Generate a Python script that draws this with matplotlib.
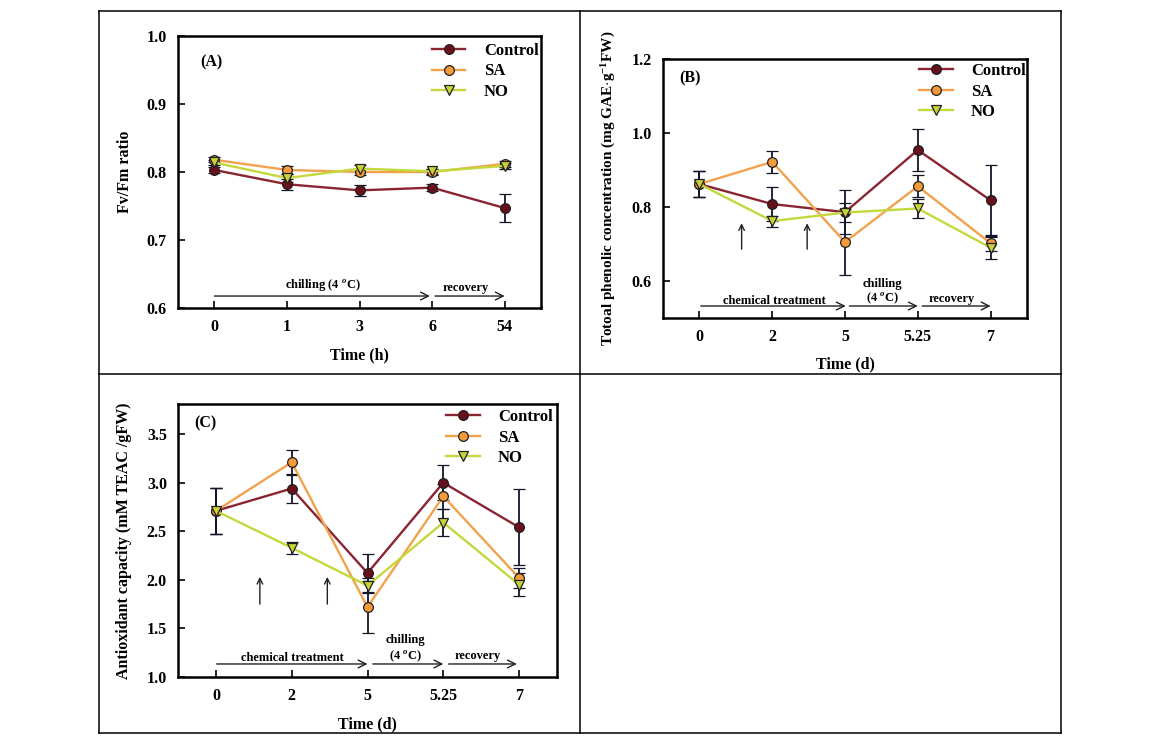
import numpy as np
import matplotlib
matplotlib.use('Agg')
import matplotlib.pyplot as plt
from matplotlib.lines import Line2D

plt.rcParams['font.family'] = ['Liberation Serif', 'DejaVu Serif']
plt.rcParams['font.weight'] = 'bold'
plt.rcParams['axes.labelweight'] = 'bold'
plt.rcParams['mathtext.fontset'] = 'custom'
plt.rcParams['mathtext.rm'] = 'Liberation Serif:bold'
plt.rcParams['mathtext.it'] = 'Liberation Serif:italic:bold'
plt.rcParams['mathtext.bf'] = 'Liberation Serif:bold'

# ---- data ----
series = ['Control', 'SA', 'NO']

# (A) Fv/Fm ratio
ticks_a = ['0', '1', '3', '6', '54']
fvfm_control = [0.803, 0.782, 0.773, 0.777, 0.747]
fvfm_control_err = [0.005, 0.008, 0.008, 0.005, 0.020]
fvfm_sa = [0.818, 0.803, 0.800, 0.800, 0.812]
fvfm_sa_err = [0.004, 0.006, 0.005, 0.004, 0.004]
fvfm_no = [0.814, 0.791, 0.805, 0.801, 0.809]
fvfm_no_err = [0.004, 0.006, 0.005, 0.004, 0.004]

# (B) total phenolic concentration
ticks_d = ['0', '2', '5', '5.25', '7']
phen_control = [0.862, 0.808, 0.786, 0.954, 0.818]
phen_control_err = [0.035, 0.045, 0.060, 0.058, 0.095]
phen_sa = [0.862, 0.922, 0.705, 0.856, 0.702]
phen_sa_err = [0.035, 0.030, 0.090, 0.030, 0.020]
phen_no = [0.862, 0.762, 0.785, 0.796, 0.690]
phen_no_err = [0.035, 0.015, 0.025, 0.025, 0.030]

# (C) antioxidant capacity
anti_control = [2.71, 2.94, 2.07, 3.00, 2.54]
anti_control_err = [0.24, 0.15, 0.20, 0.18, 0.39]
anti_sa = [2.71, 3.21, 1.72, 2.86, 2.02]
anti_sa_err = [0.24, 0.13, 0.27, 0.13, 0.10]
anti_no = [2.71, 2.33, 1.94, 2.59, 1.95]
anti_no_err = [0.24, 0.06, 0.08, 0.14, 0.12]

line_colors = {'Control': '#8a2433', 'SA': '#f2a24c', 'NO': '#c4d83c'}
face_colors = {'Control': '#6a0f1c', 'SA': '#f39a3a', 'NO': '#c9d236'}
markers = {'Control': 'o', 'SA': 'o', 'NO': 'v'}
err_color = '#15152a'

W, H = 1162, 738
fig = plt.figure(figsize=(W / 100, H / 100), dpi=100)


def px_axes(l, t, r, b):
    return fig.add_axes([l / W, (H - b) / H, (r - l) / W, (b - t) / H])


def draw_panel(ax, data, ticks, ylim, yticks, ylabel, tag, tag_xy, leg_xy, lab_x, ylab_size=11.5):
    x = np.arange(len(ticks))
    handles = []
    for name, (vals, errs) in zip(series, data):
        ax.errorbar(x, vals, yerr=errs, color=line_colors[name], lw=1.7,
                    marker=markers[name], ms=7, mfc=face_colors[name],
                    mec='#202020', mew=0.9, ecolor=err_color, elinewidth=1.3,
                    capsize=4, capthick=1.3)
        handles.append(Line2D([], [], color=line_colors[name], lw=1.7,
                              marker=markers[name], ms=7, mfc=face_colors[name],
                              mec='#202020', mew=0.9, label=name))
    ax.set_xlim(-0.5, len(ticks) - 0.5)
    ax.set_ylim(*ylim)
    ax.set_xticks(x)
    ax.set_xticklabels(ticks)
    ax.set_yticks(yticks)
    ax.set_yticklabels(['%.1f' % v for v in yticks])
    ax.tick_params(direction='in', length=5, width=1.2, labelsize=11.5, pad=8)
    for s in ax.spines.values():
        s.set_linewidth(1.8)
    ax.set_ylabel(ylabel, fontsize=ylab_size)
    ax.yaxis.set_label_coords(lab_x, 0.5)
    ax.text(tag_xy[0], tag_xy[1], tag, transform=ax.transAxes, fontsize=11.5,
            ha='center', va='center')
    ax.legend(handles=handles, loc='upper left', bbox_to_anchor=leg_xy,
              frameon=False, fontsize=12, borderpad=0, borderaxespad=0,
              handlelength=2.0, handletextpad=1.1, labelspacing=0.28)


def harrow(ax, x0, x1, y):
    ax.annotate('', xy=(x1, y), xytext=(x0, y),
                arrowprops=dict(arrowstyle='->', lw=1.0, color='#202020',
                                mutation_scale=14, shrinkA=0, shrinkB=0))


def varrow(ax, x, y0, y1):
    ax.annotate('', xy=(x, y1), xytext=(x, y0),
                arrowprops=dict(arrowstyle='->', lw=1.0, color='#202020',
                                mutation_scale=10, shrinkA=0, shrinkB=0))


# (A)
ax_a = px_axes(178, 36, 541, 308)
draw_panel(ax_a,
           [(fvfm_control, fvfm_control_err), (fvfm_sa, fvfm_sa_err), (fvfm_no, fvfm_no_err)],
           ticks_a, (0.6, 1.0), [0.6, 0.7, 0.8, 0.9, 1.0], 'Fv/Fm ratio',
           '(A)', (0.091, 0.904), (0.700, 0.975), -0.124)
ax_a.set_xlabel('Time (h)', fontsize=11.5)
ax_a.xaxis.set_label_coords(0.5, -0.145)
harrow(ax_a, 0, 2.97, 0.6176)
harrow(ax_a, 3.04, 4.0, 0.6176)
ax_a.text(1.49, 0.634, 'chilling (4 $^{o}$C)', fontsize=9, ha='center', va='center')
ax_a.text(3.47, 0.630, 'recovery', fontsize=9, ha='center', va='center')

# (B)
ax_b = px_axes(663, 59, 1027, 318)
draw_panel(ax_b,
           [(phen_control, phen_control_err), (phen_sa, phen_sa_err), (phen_no, phen_no_err)],
           ticks_d, (0.5, 1.2), [0.6, 0.8, 1.0, 1.2],
           'Totoal phenolic concentration (mg GAE$\\cdot$g$^{-1}$FW)',
           '(B)', (0.074, 0.927), (0.704, 0.985), -0.124, ylab_size=11)
ax_b.set_xlabel('Time (d)', fontsize=11.5)
ax_b.xaxis.set_label_coords(0.5, -0.15)
harrow(ax_b, 0.02, 2.01, 0.5324)
harrow(ax_b, 2.06, 3.0, 0.5324)
harrow(ax_b, 3.06, 4.0, 0.5324)
varrow(ax_b, 0.58, 0.686, 0.756)
varrow(ax_b, 1.48, 0.686, 0.756)
ax_b.text(1.03, 0.547, 'chemical treatment', fontsize=9, ha='center', va='center')
ax_b.text(2.51, 0.592, 'chilling', fontsize=9, ha='center', va='center')
ax_b.text(2.51, 0.552, '(4 $^{o}$C)', fontsize=9, ha='center', va='center')
ax_b.text(3.46, 0.552, 'recovery', fontsize=9, ha='center', va='center')

# (C)
ax_c = px_axes(178, 404, 557, 677)
draw_panel(ax_c,
           [(anti_control, anti_control_err), (anti_sa, anti_sa_err), (anti_no, anti_no_err)],
           ticks_d, (1.0, 3.81), [1.0, 1.5, 2.0, 2.5, 3.0, 3.5],
           'Antioxidant capacity (mM TEAC /gFW)',
           '(C)', (0.071, 0.930), (0.708, 0.982), -0.121)
ax_c.set_xlabel('Time (d)', fontsize=11.5)
ax_c.xaxis.set_label_coords(0.5, -0.143)
harrow(ax_c, 0.01, 2.0, 1.134)
harrow(ax_c, 2.07, 3.0, 1.134)
harrow(ax_c, 3.07, 3.97, 1.134)
varrow(ax_c, 0.58, 1.75, 2.03)
varrow(ax_c, 1.47, 1.75, 2.03)
ax_c.text(1.01, 1.20, 'chemical treatment', fontsize=9, ha='center', va='center')
ax_c.text(2.50, 1.38, 'chilling', fontsize=9, ha='center', va='center')
ax_c.text(2.50, 1.21, '(4 $^{o}$C)', fontsize=9, ha='center', va='center')
ax_c.text(3.45, 1.22, 'recovery', fontsize=9, ha='center', va='center')

# table grid around the panels
xs = [99, 580, 1061]
ys = [11, 374, 733]
for yy in ys:
    fig.add_artist(Line2D([xs[0] / W, xs[-1] / W], [1 - yy / H, 1 - yy / H],
                          color='black', lw=1.1))
for xx in xs:
    fig.add_artist(Line2D([xx / W, xx / W], [1 - ys[0] / H, 1 - ys[-1] / H],
                          color='black', lw=1.1))

fig.savefig('out.png', dpi=100)
